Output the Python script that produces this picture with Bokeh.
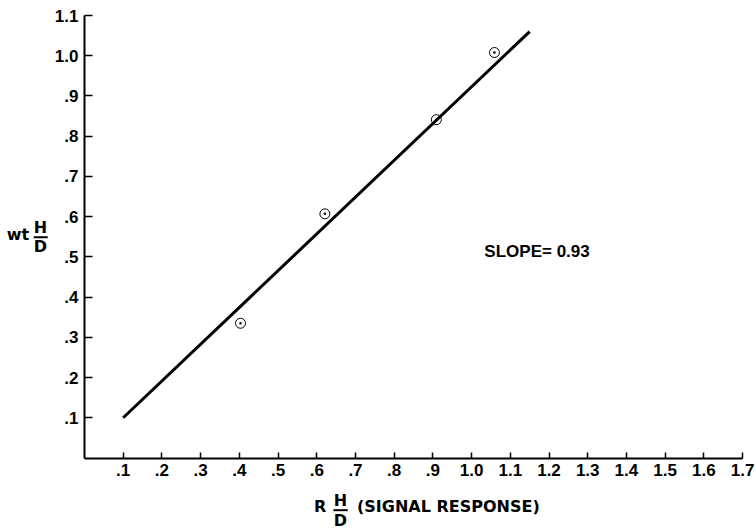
from bokeh.plotting import figure
from bokeh.models import Range1d, FixedTicker, CustomJSTickFormatter, Label, Arrow
from bokeh.embed import file_html
from bokeh.resources import INLINE

# data
signal_response = [0.403, 0.621, 0.909, 1.059]   # R H/D
wt_hd = [0.335, 0.607, 0.841, 1.008]             # wt H/D
fit_x = [0.10, 1.15]
fit_y = [0.10, 1.06]
x_ticks = [0.1, 0.2, 0.3, 0.4, 0.5, 0.6, 0.7, 0.8, 0.9, 1.0, 1.1, 1.2, 1.3, 1.4, 1.5, 1.6, 1.7]
y_ticks = [0.1, 0.2, 0.3, 0.4, 0.5, 0.6, 0.7, 0.8, 0.9, 1.0, 1.1]
slope_text = "SLOPE= 0.93"

TICK_FONT = "Liberation Sans"
LABEL_FONT = "DejaVu Sans"

# frame covers the whole canvas; axes are pinned at x=0 / y=0 with fixed_location
p = figure(width=756, height=529, output_backend="svg", toolbar_location=None,
           x_range=Range1d(-0.217, 1.736), y_range=Range1d(-0.1777, 1.1373),
           min_border=0)
p.outline_line_color = None
p.grid.visible = False
p.background_fill_color = "white"
p.border_fill_color = "white"

fmt = CustomJSTickFormatter(code="""
const s = tick.toFixed(1);
return tick < 1 ? s.slice(1) : s;
""")

p.xaxis.fixed_location = 0
p.yaxis.fixed_location = 0
p.xaxis.bounds = (0, 1.7)
p.yaxis.bounds = (0, 1.1)

for ax, ticks in ((p.xaxis[0], x_ticks), (p.yaxis[0], y_ticks)):
    ax.ticker = FixedTicker(ticks=ticks)
    ax.formatter = fmt
    ax.axis_line_width = 2
    ax.axis_line_color = "black"
    ax.major_tick_line_width = 1.5
    ax.major_tick_line_color = "black"
    ax.major_tick_out = 0
    ax.minor_tick_line_color = None
    ax.major_label_text_font = TICK_FONT
    ax.major_label_text_font_style = "bold"
    ax.major_label_text_font_size = "17px"
    ax.major_label_text_color = "black"
p.xaxis.major_tick_in = 6
p.yaxis.major_tick_in = 8
p.xaxis.major_label_standoff = 6
p.yaxis.major_label_standoff = 6

p.line(fit_x, fit_y, line_width=3, line_color="black")
p.scatter(signal_response, wt_hd, marker="circle_dot", size=10,
          line_color="black", fill_color=None, line_width=1)

def lab(x, y, t, align="left", size="16px", font=LABEL_FONT):
    p.add_layout(Label(x=x, y=y, text=t, text_font=font, text_font_style="bold",
                       text_font_size=size, text_align=align, text_baseline="alphabetic",
                       text_color="black"))

def bar(x0, x1, y):
    p.add_layout(Arrow(x_start=x0, x_end=x1, y_start=y, y_end=y, start=None, end=None,
                       line_width=2, line_color="black"))

# y-axis label: wt H/D
lab(-0.201, 0.5555, "wt")
lab(-0.1137, 0.5722, "H", align="center")
bar(-0.131, -0.095, 0.5489)
lab(-0.1137, 0.5265, "D", align="center")

# x-axis label: R H/D (SIGNAL RESPONSE)
lab(0.593, -0.1205, "R")
lab(0.661, -0.1064, "H", align="center")
bar(0.643, 0.680, -0.1297)
lab(0.661, -0.1546, "D", align="center")
lab(0.704, -0.1205, "(SIGNAL RESPONSE)")

lab(1.033, 0.514, slope_text, size="17px", font=TICK_FONT)

open("out.html", "w").write(file_html(p, INLINE))
